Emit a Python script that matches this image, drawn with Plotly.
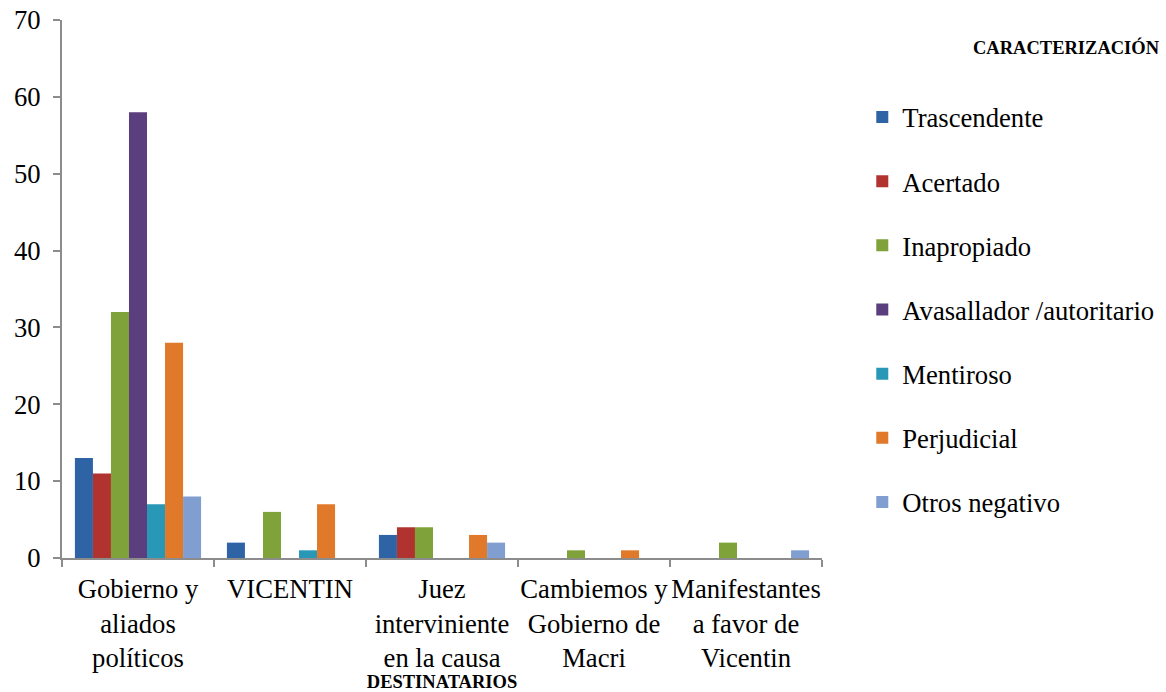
import plotly.graph_objects as go

categories = ["Gobierno y<br>aliados<br>políticos", "VICENTIN", "Juez<br>interviniente<br>en la causa",
              "Cambiemos y<br>Gobierno de<br>Macri", "Manifestantes<br>a favor de<br>Vicentin"]
series_names = ["Trascendente", "Acertado", "Inapropiado", "Avasallador /autoritario",
                "Mentiroso", "Perjudicial", "Otros negativo"]
trascendente = [13, 2, 3, 0, 0]
acertado = [11, 0, 4, 0, 0]
inapropiado = [32, 6, 4, 1, 2]
avasallador = [58, 0, 0, 0, 0]
mentiroso = [7, 1, 0, 0, 0]
perjudicial = [28, 7, 3, 1, 0]
otros = [8, 0, 2, 0, 1]
y_ticks = [0, 10, 20, 30, 40, 50, 60, 70]

series_values = [trascendente, acertado, inapropiado, avasallador, mentiroso, perjudicial, otros]
colors = ["#2E63A6", "#B0332F", "#7FA23A", "#5A3E7D", "#2898B6", "#E0792A", "#809ED0"]

fig = go.Figure()
for i, (name, vals, col) in enumerate(zip(series_names, series_values, colors)):
    fig.add_trace(go.Bar(x=categories, y=vals, name=name, marker_color=col,
                         marker_line_width=0, legendgroup=str(i)))

font_family = "Liberation Serif, Times New Roman, serif"
fs = 26.67
fig.update_layout(
    width=1166, height=692,
    margin=dict(l=62, r=344, t=20, b=134, autoexpand=False),
    paper_bgcolor="white", plot_bgcolor="white",
    barmode="group", bargap=0.17, bargroupgap=0,
    font=dict(family=font_family, size=fs, color="black"),
    showlegend=True,
    legend=dict(x=1.053, xanchor="left", y=0.864, yanchor="top",
                font=dict(family=font_family, size=fs, color="black"),
                tracegroupgap=26.5, itemwidth=30),
    xaxis=dict(showline=True, linecolor="#8C8C8C", linewidth=2, automargin=False,
               ticks="outside", tickson="boundaries", ticklen=7, tickcolor="#8C8C8C", tickwidth=2,
               ticklabelstandoff=6, tickangle=0,
               tickfont=dict(family=font_family, size=fs, color="black"),
               title=dict(text="<b>DESTINATARIOS</b>", font=dict(family=font_family, size=18.5, color="black"),
                          standoff=0)),
    yaxis=dict(range=[0, 70], tickvals=y_ticks, showline=True, linecolor="#8C8C8C", linewidth=2,
               automargin=False, ticklabelstandoff=7,
               ticks="outside", ticklen=7, tickcolor="#8C8C8C", tickwidth=2, showgrid=False,
               zeroline=False, tickfont=dict(family=font_family, size=fs, color="black")),
    annotations=[dict(text="<b>CARACTERIZACIÓN</b>", xref="paper", yref="paper",
                      x=1.322, y=1.0, xanchor="center", yanchor="middle", yshift=-27, showarrow=False,
                      font=dict(family=font_family, size=18.5, color="black"))],
)

fig.write_html("out.html", config={"displayModeBar": False},
               post_script="document.body.style.margin='0';")
